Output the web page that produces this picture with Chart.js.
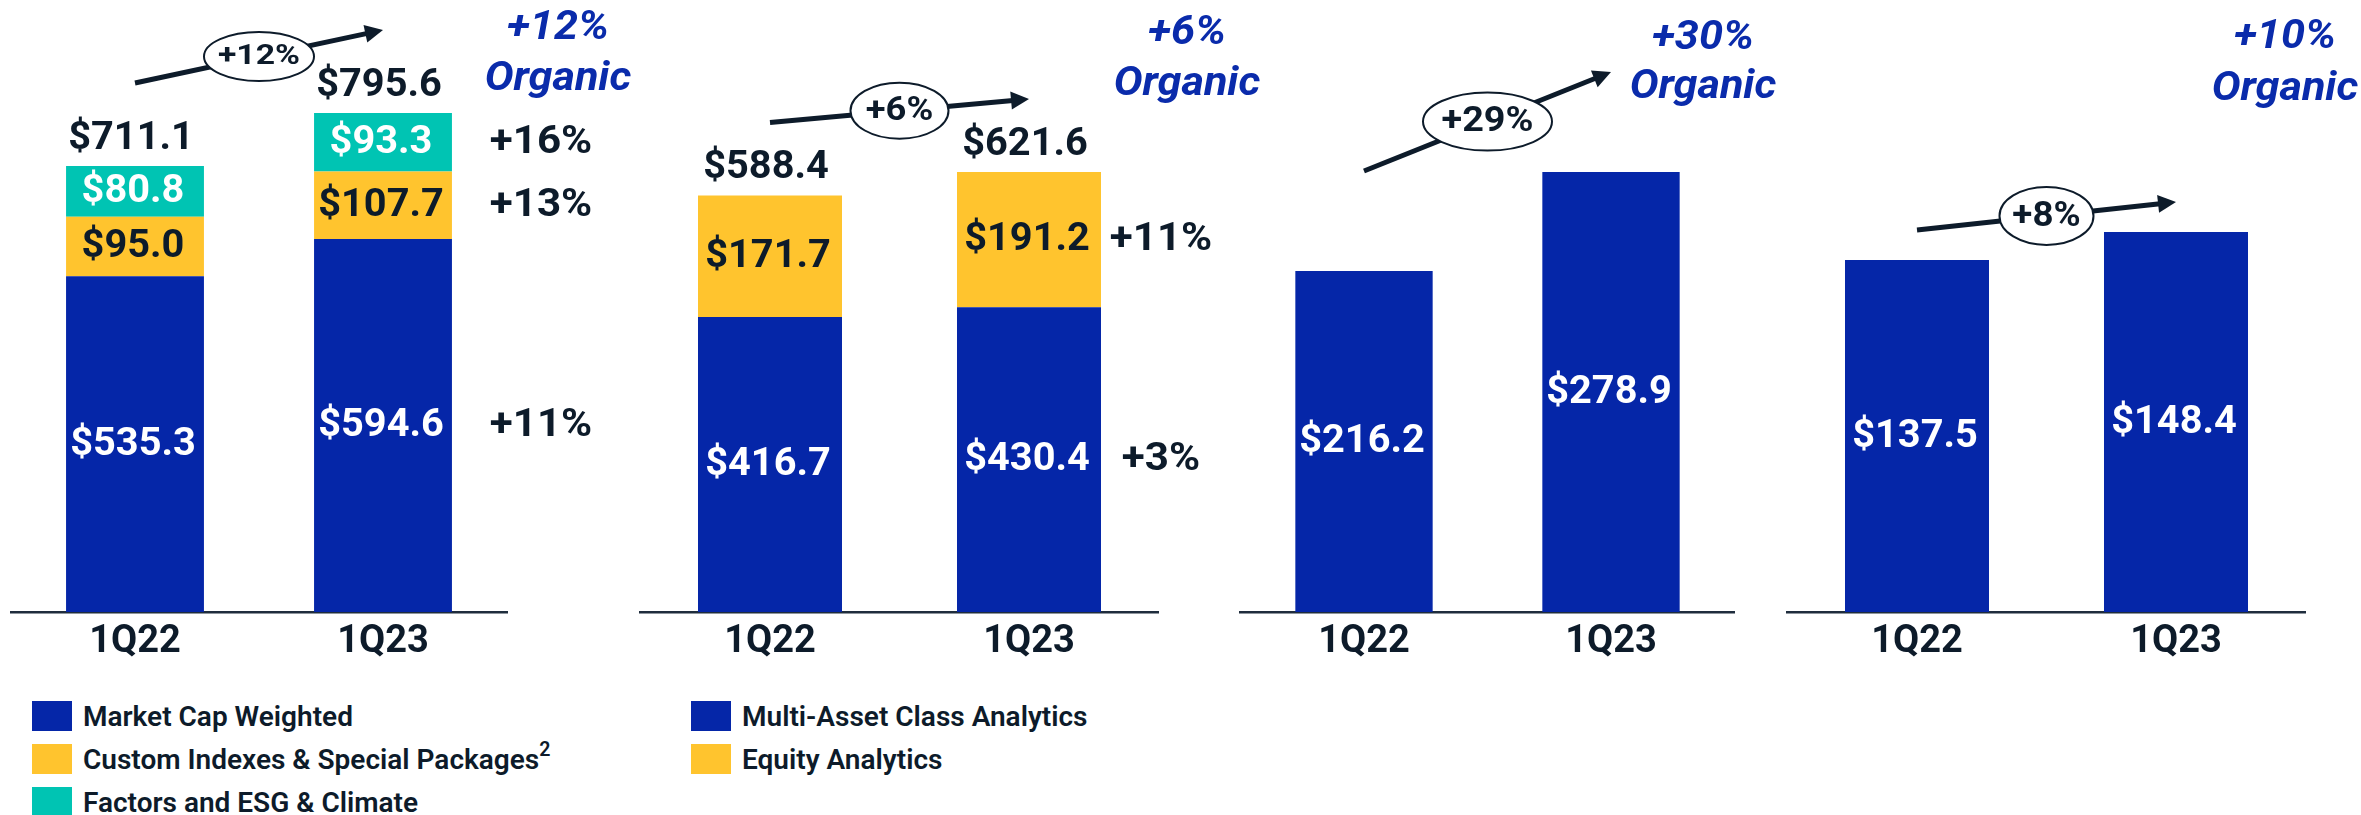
<!DOCTYPE html>
<html>
<head>
<meta charset="utf-8">
<script src="https://cdn.jsdelivr.net/npm/chart.js@4.4.1/dist/chart.umd.min.js"></script>
<style>
  body { margin: 0; background: #fff; font-family: Roboto, sans-serif; }
  #page { position: relative; width: 2361px; height: 815px; overflow: hidden; }
  #page canvas { position: absolute; top: 0; }
  .legend { position: absolute; top: 701px; }
  .item { display: flex; align-items: center; height: 30px; margin-bottom: 13px;
          font-size: 28px; font-weight: 600; color: #0d1b2a; white-space: nowrap; }
  .swatch { width: 40px; height: 30px; margin-right: 11px; flex: none; }
  .item sup { font-size: 70%; position: relative; top: -3px; }
</style>
</head>
<body>
<div id="page">
  <canvas id="c1" width="640" height="700" style="left:0px"></canvas>
  <canvas id="c2" width="640" height="700" style="left:630px"></canvas>
  <canvas id="c3" width="560" height="700" style="left:1230px"></canvas>
  <canvas id="c4" width="581" height="700" style="left:1780px"></canvas>
  <div class="legend" id="legend1" style="left:32px"></div>
  <div class="legend" id="legend2" style="left:691px"></div>
</div>
<script>
const periods = ['1Q22', '1Q23'];

// Index
const marketCapWeighted = [535.3, 594.6];
const customIndexes = [95.0, 107.7];
const factorsEsgClimate = [80.8, 93.3];
const indexTotals = [711.1, 795.6];
const indexSegmentChange = ['+11%', '+13%', '+16%'];

// Analytics
const multiAssetAnalytics = [416.7, 430.4];
const equityAnalytics = [171.7, 191.2];
const analyticsTotals = [588.4, 621.6];
const analyticsSegmentChange = ['+3%', '+11%'];

// ESG & Climate, private assets
const esgClimate = [216.2, 278.9];
const privateAssets = [137.5, 148.4];

const totalChange = ['+12%', '+6%', '+29%', '+8%'];
const organicChange = ['+12%', '+6%', '+30%', '+10%'];

const legendIndex = ['Market Cap Weighted', 'Custom Indexes & Special Packages<sup>2</sup>', 'Factors and ESG & Climate'];
const legendAnalytics = ['Multi-Asset Class Analytics', 'Equity Analytics'];

const BLUE = '#0526a8';
const YELLOW = '#ffc42e';
const TEAL = '#00c4b3';
const DARK = '#0d1b2a';
const TEXT_BLUE = '#0a2bab';

function money(v) {
  return '$' + v.toFixed(1);
}

// text slightly stretched sideways, like the slide
function wideText(ctx, txt, x, y, font, sx) {
  ctx.save();
  ctx.font = font;
  ctx.translate(x, y);
  ctx.scale(sx, 1);
  ctx.fillText(txt, 0, 0);
  ctx.restore();
}

function drawArrow(ctx, x0, y0, x1, y1) {
  const ang = Math.atan2(y1 - y0, x1 - x0);
  const len = 18, half = 9;
  const bx = x1 - len * Math.cos(ang), by = y1 - len * Math.sin(ang);
  ctx.strokeStyle = DARK;
  ctx.fillStyle = DARK;
  ctx.lineWidth = 5;
  ctx.beginPath();
  ctx.moveTo(x0, y0);
  ctx.lineTo(bx + 2 * Math.cos(ang), by + 2 * Math.sin(ang));
  ctx.stroke();
  ctx.beginPath();
  ctx.moveTo(x1, y1);
  ctx.lineTo(bx - half * Math.sin(ang), by + half * Math.cos(ang));
  ctx.lineTo(bx + half * Math.sin(ang), by - half * Math.cos(ang));
  ctx.closePath();
  ctx.fill();
}

const labelPlugin = {
  id: 'runRateLabels',
  afterDatasetsDraw(chart, args, opts) {
    const ctx = chart.ctx;
    const yScale = chart.scales.y;
    const sets = chart.data.datasets;
    const valueFont = 'bold 39px Roboto';
    ctx.save();
    ctx.textAlign = 'center';
    ctx.textBaseline = 'middle';

    // values inside each segment + change beside the 1Q23 bar
    sets.forEach((ds, di) => {
      const meta = chart.getDatasetMeta(di);
      meta.data.forEach((bar, i) => {
        ctx.fillStyle = ds.labelColor;
        wideText(ctx, money(ds.data[i]), bar.x - 2, (bar.y + bar.base) / 2 + 1, valueFont, 1.02);
      });
      if (opts.segmentChange) {
        const bar = meta.data[1];
        ctx.fillStyle = DARK;
        wideText(ctx, opts.segmentChange[di], bar.x + opts.changeDx, (bar.y + bar.base) / 2 + 1, 'bold 39px Roboto', 1.08);
      }
    });

    const topMeta = chart.getDatasetMeta(sets.length - 1);
    const tops = opts.totals || sets[0].data;

    // totals above stacked bars
    if (opts.totals) {
      ctx.fillStyle = DARK;
      opts.totals.forEach((t, i) => {
        wideText(ctx, money(t), topMeta.data[i].x - 4, yScale.getPixelForValue(t) - 27, valueFont, 1.02);
      });
    }

    // growth arrow with the ellipse badge
    const x0 = topMeta.data[0].x, x1 = topMeta.data[1].x;
    const y0 = yScale.getPixelForValue(tops[0]) - opts.lift;
    const y1 = yScale.getPixelForValue(tops[1]) - opts.lift;
    drawArrow(ctx, x0, y0, x1, y1);
    const cx = (x0 + x1) / 2, cy = (y0 + y1) / 2;
    ctx.beginPath();
    ctx.ellipse(cx, cy, opts.rx, opts.ry, 0, 0, Math.PI * 2);
    ctx.fillStyle = '#fff';
    ctx.fill();
    ctx.lineWidth = 2;
    ctx.strokeStyle = DARK;
    ctx.stroke();
    ctx.fillStyle = DARK;
    wideText(ctx, opts.change, cx, cy + 1, 'bold ' + opts.badgeSize + 'px Roboto', opts.badgeStretch);

    // organic growth callout
    const ox = topMeta.data[1].x + opts.organicDx;
    const top = chart.chartArea.top;
    ctx.fillStyle = TEXT_BLUE;
    wideText(ctx, opts.organic, ox, top + opts.organicY[0], 'italic bold 40px Roboto', 1.08);
    wideText(ctx, 'Organic', ox, top + opts.organicY[1], 'italic bold 40px Roboto', 1.08);
    ctx.restore();
  }
};

function makePanel(id, datasets, yMax, pad, labelOpts) {
  return new Chart(document.getElementById(id), {
    type: 'bar',
    data: { labels: periods, datasets },
    options: {
      responsive: false,
      animation: false,
      layout: { padding: { left: pad[0], right: pad[1], top: 0, bottom: 0 } },
      datasets: { bar: { barPercentage: 0.556, categoryPercentage: 1 } },
      plugins: {
        legend: { display: false },
        tooltip: { enabled: false },
        runRateLabels: labelOpts
      },
      scales: {
        x: {
          stacked: true,
          grid: { display: false, drawTicks: false },
          border: { display: true, color: '#1f2d3d', width: 2.5 },
          ticks: { color: DARK, padding: 8, font: { family: 'Roboto', size: 38, weight: 'bold' } },
          afterFit: s => { s.height = 88; }
        },
        y: { stacked: true, display: false, min: 0, max: yMax }
      }
    },
    plugins: [labelPlugin]
  });
}

makePanel('c1', [
  { label: 'Market Cap Weighted', data: marketCapWeighted, backgroundColor: BLUE, labelColor: '#fff' },
  { label: 'Custom Indexes & Special Packages', data: customIndexes, backgroundColor: YELLOW, labelColor: DARK },
  { label: 'Factors and ESG & Climate', data: factorsEsgClimate, backgroundColor: TEAL, labelColor: '#fff' }
], 975.8, [11, 133], {
  totals: indexTotals, segmentChange: indexSegmentChange, changeDx: 158,
  lift: 83, rx: 55, ry: 24.5, badgeSize: 27, badgeStretch: 1.25, change: totalChange[0],
  organic: organicChange[0], organicDx: 175, organicY: [29, 80]
});

makePanel('c2', [
  { label: 'Multi-Asset Class Analytics', data: multiAssetAnalytics, backgroundColor: BLUE, labelColor: '#fff' },
  { label: 'Equity Analytics', data: equityAnalytics, backgroundColor: YELLOW, labelColor: DARK }
], 864.5, [10.5, 111.5], {
  totals: analyticsTotals, segmentChange: analyticsSegmentChange, changeDx: 132,
  lift: 73, rx: 49, ry: 28, badgeSize: 33, badgeStretch: 1.1, change: totalChange[1],
  organic: organicChange[1], organicDx: 158, organicY: [34, 85]
});

makePanel('c3', [
  { label: 'ESG and Climate', data: esgClimate, backgroundColor: BLUE, labelColor: '#fff' }
], 388, [10.5, 55.5], {
  lift: 100, rx: 64.5, ry: 29, badgeSize: 35, badgeStretch: 1.08, change: totalChange[2],
  organic: organicChange[2], organicDx: 92, organicY: [39, 88]
});

makePanel('c4', [
  { label: 'Private Assets', data: privateAssets, backgroundColor: BLUE, labelColor: '#fff' }
], 239, [7.5, 55.5], {
  lift: 30, rx: 47, ry: 29, badgeSize: 35, badgeStretch: 1.05, change: totalChange[3],
  organic: organicChange[3], organicDx: 109, organicY: [38, 90]
});

function buildLegend(id, names, colors) {
  const box = document.getElementById(id);
  names.forEach((n, i) => {
    const row = document.createElement('div');
    row.className = 'item';
    row.innerHTML = '<span class="swatch" style="background:' + colors[i] + '"></span><span>' + n + '</span>';
    box.appendChild(row);
  });
}
buildLegend('legend1', legendIndex, [BLUE, YELLOW, TEAL]);
buildLegend('legend2', legendAnalytics, [BLUE, YELLOW]);
</script>
</body>
</html>
